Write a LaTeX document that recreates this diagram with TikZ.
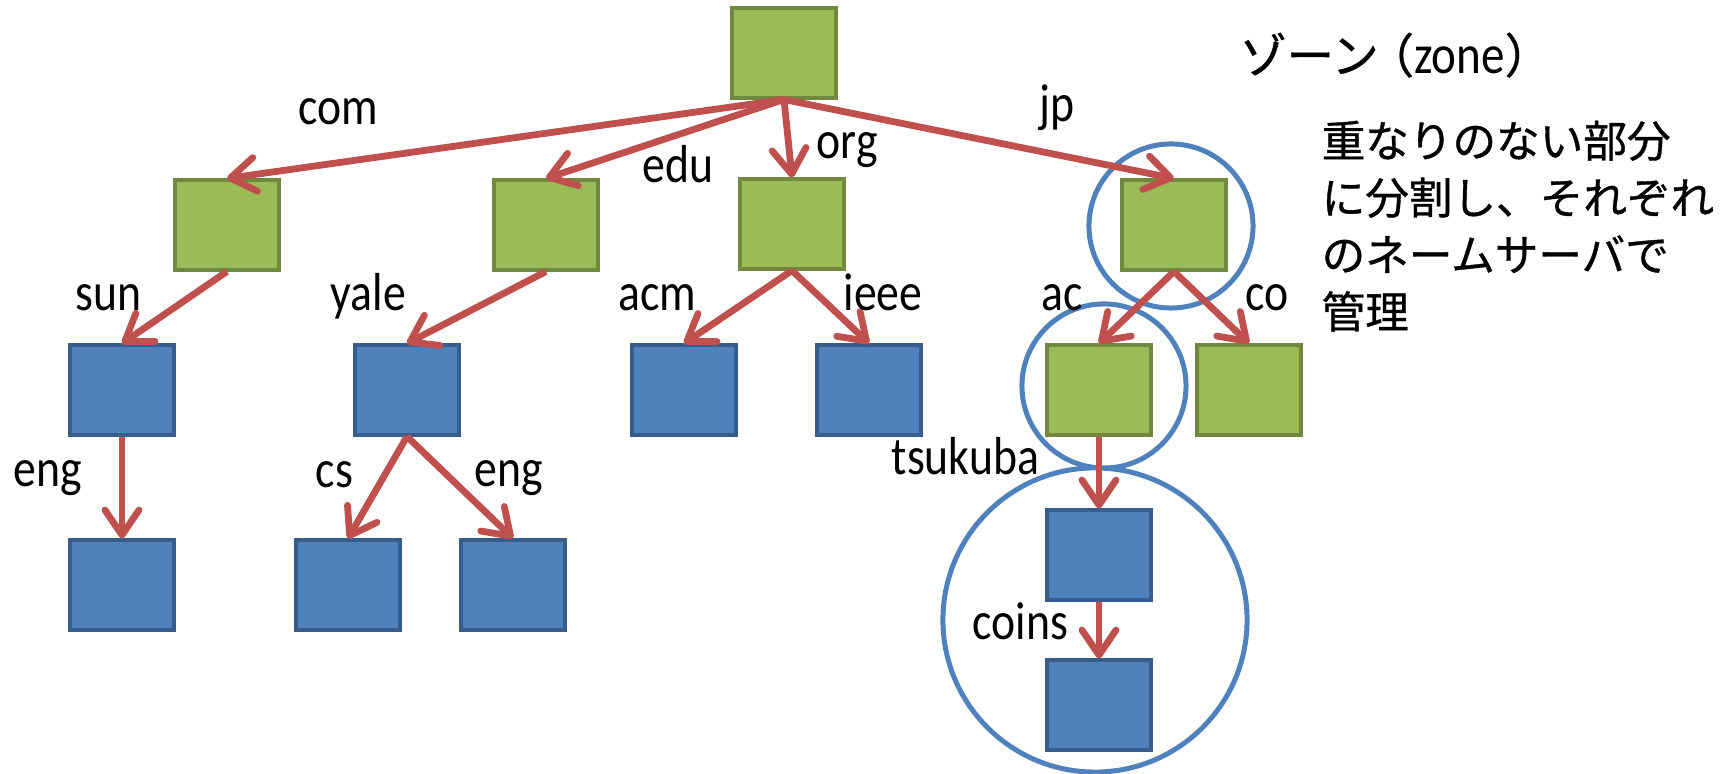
\documentclass[tikz,border=0pt]{standalone}
\usepackage{fontspec}
\usepackage{graphicx}
\setmainfont{Carlito}
\newfontfamily\jpfont{Noto Sans CJK JP}[FakeBold=0.8]
\usetikzlibrary{arrows.meta}
\definecolor{nsfill}{HTML}{9BBB59}
\definecolor{nsedge}{HTML}{71893F}
\definecolor{leaffill}{HTML}{4F81BD}
\definecolor{leafedge}{HTML}{385D8A}
\definecolor{linkred}{HTML}{C0504D}
\definecolor{ringblue}{HTML}{4F81BD}
\newcommand{\tallt}[1]{\scalebox{1}[1.17]{#1}}
\begin{document}
\begin{tikzpicture}[x=0.01cm, y=-0.01cm,
    >={Straight Barb[length=2.5mm, width=3.4mm, round]},
    nsbox/.style={rectangle, draw=nsedge, fill=nsfill, line width=0.04cm,
                  minimum width=1.04cm, minimum height=0.89cm, inner sep=0pt},
    leafbox/.style={nsbox, draw=leafedge, fill=leaffill},
    link/.style={draw=linkred, line width=0.068cm, ->},
    ring/.style={circle, draw=ringblue, line width=0.05cm, inner sep=0pt},
    lbl/.style={anchor=base west, inner sep=0pt, font=\fontsize{13}{15}\selectfont}]
  \useasboundingbox (0,0) rectangle (1735,774);
  % name servers
  \node[nsbox] (root) at (784,53) {};
  \node[nsbox] (com) at (227,225) {};
  \node[nsbox] (edu) at (546,225) {};
  \node[nsbox] (org) at (792,224) {};
  \node[nsbox] (jp)  at (1174,225) {};
  \node[leafbox] (sun)  at (122,390) {};
  \node[leafbox] (yale) at (407,390) {};
  \node[leafbox] (acm)  at (684,390) {};
  \node[leafbox] (ieee) at (869,390) {};
  \node[nsbox]   (ac)   at (1099,390) {};
  \node[nsbox]   (co)   at (1249,390) {};
  \node[leafbox] (suneng)  at (122,585) {};
  \node[leafbox] (cs)      at (348,585) {};
  \node[leafbox] (yaleeng) at (513,585) {};
  \node[leafbox] (tsukuba) at (1099,555) {};
  \node[leafbox] (coins)   at (1099,705) {};
  % zones
  \node[ring, minimum size=1.64cm] (jpzone) at (1171,226) {};
  \node[ring, minimum size=1.64cm] (aczone) at (1104,386) {};
  \node[ring, minimum size=3.04cm] (tsukubazone) at (1095,620) {};
  % delegation
  \draw[link] (root.south) -- (com.north);
  \draw[link] (root.south) -- (edu.north);
  \draw[link] (root.south) -- (org.north);
  \draw[link] (root.south) -- (jp.north);
  \draw[link] (com.south) -- (sun.north);
  \draw[link] (edu.south) -- (yale.north);
  \draw[link] (org.south) -- (acm.north);
  \draw[link] (org.south) -- (ieee.north);
  \draw[link] (jp.south) -- (ac.north);
  \draw[link] (jp.south) -- (co.north);
  \draw[link] (sun.south) -- (suneng.north);
  \draw[link] (yale.south) -- (cs.north);
  \draw[link] (yale.south) -- (yaleeng.north);
  \draw[link] (ac.south) -- (tsukuba.north);
  \draw[link] (tsukuba.south) -- (coins.north);
  % labels
  \node[lbl] (lcom) at (298,125) {\tallt{com}};
  \node[lbl] (ledu) at (642,183) {\tallt{edu}};
  \node[lbl] (lorg) at (816,159) {\tallt{org}};
  \node[lbl] (ljp)  at (1039,122) {\tallt{jp}};
  \node[lbl] (lsun)  at (75,311) {\tallt{sun}};
  \node[lbl] (lyale) at (330,311) {\tallt{yale}};
  \node[lbl] (lacm)  at (618,311) {\tallt{acm}};
  \node[lbl] (lieee) at (843,311) {\tallt{ieee}};
  \node[lbl] (lac)   at (1041,311) {\tallt{ac}};
  \node[lbl] (lco)   at (1245,311) {\tallt{co}};
  \node[lbl] (lsuneng)  at (13,487) {\tallt{eng}};
  \node[lbl] (lcs)      at (315,488) {\tallt{cs}};
  \node[lbl] (lyaleeng) at (474,487) {\tallt{eng}};
  \node[lbl] (ltsukuba) at (891,475) {\tallt{tsukuba}};
  \node[lbl] (lcoins)   at (972,640) {\tallt{coins}};
  % note
  \node[anchor=north west, inner sep=0pt, font=\jpfont\fontsize{13.4}{16}\selectfont]
    (title) at (1239,32) {ゾーン\hspace{-0.25em}（{\rmfamily\tallt{zone}}）};
  \node[anchor=north west, inner sep=0pt, align=left,
        font=\jpfont\fontsize{12.4}{16.2}\selectfont]
    (note) at (1321,120) {重なりのない部分\\に分割し、それぞれ\\のネームサーバで\\管理};
\end{tikzpicture}
\end{document}
